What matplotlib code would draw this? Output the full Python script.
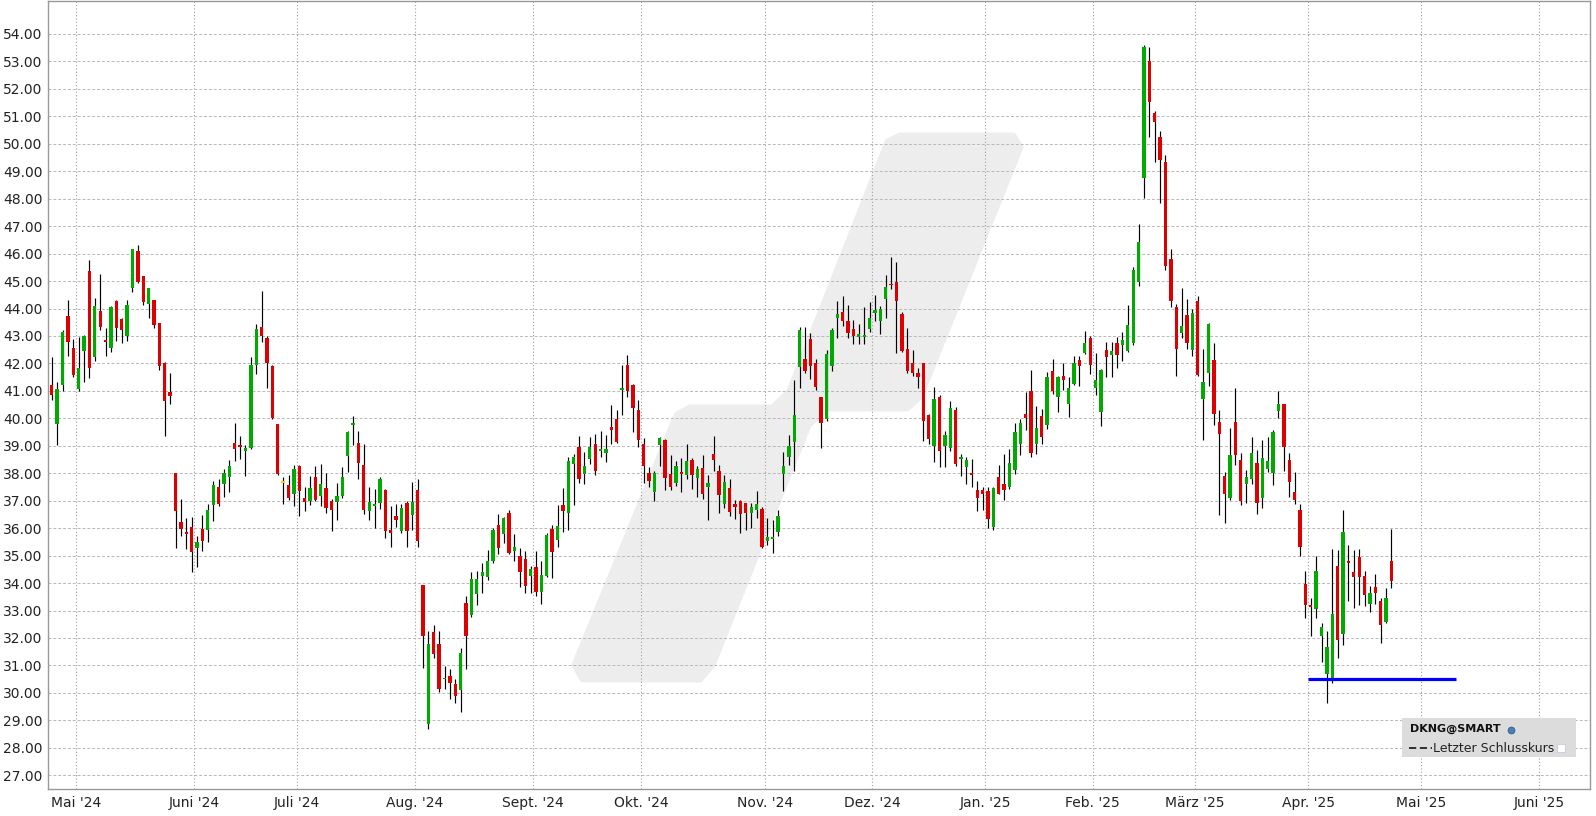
import numpy as np
import matplotlib.pyplot as plt
from matplotlib.patches import Polygon, Rectangle
from matplotlib.lines import Line2D

# DKNG daily candles, 24 Apr 2024 .. 23 Apr 2025 (trading days only)
opens = [
    41.20, 39.78, 41.20, 43.72, 42.57, 41.07, 42.47, 45.38, 42.22, 43.90,
    42.85, 42.57, 44.27, 43.63, 43.00, 44.76, 46.10, 45.18, 44.17, 44.30,
    43.47, 42.00, 40.96, 38.00, 36.22, 35.86, 36.03, 35.26, 35.98, 35.92,
    36.83, 37.49, 37.60, 37.85, 39.10, 39.02, 38.80, 38.93, 41.96, 43.32,
    42.92, 41.90, 39.78, 37.65, 37.57, 37.23, 38.27, 37.09, 37.00, 37.85,
    37.17, 37.45, 36.98, 36.94, 37.17, 38.63, 39.74, 39.10, 38.31, 36.62,
    36.79, 36.90, 37.38, 35.92, 36.43, 35.90, 36.90, 36.47, 37.38, 33.93,
    28.86, 32.23, 31.79, 30.49, 30.60, 30.33, 30.11, 33.29, 32.83, 33.59,
    34.27, 34.23, 34.80, 36.13, 35.77, 36.56, 35.18, 34.99, 34.86, 34.27,
    34.58, 33.69, 34.27, 35.98, 35.56, 36.85, 36.56, 38.32, 38.97, 37.98,
    38.51, 39.06, 38.82, 38.72, 39.67, 39.99, 41.03, 41.96, 41.20, 40.29,
    39.06, 38.00, 37.30, 39.02, 39.20, 37.98, 37.66, 38.06, 37.93, 38.49,
    37.83, 38.19, 37.49, 38.70, 38.08, 36.89, 37.45, 36.87, 36.98, 36.90,
    36.56, 36.66, 36.71, 35.52, 35.62, 35.86, 37.98, 38.61, 39.14, 41.86,
    42.15, 42.89, 42.03, 40.77, 39.97, 41.90, 43.64, 43.89, 43.53, 43.25,
    42.98, 42.96, 43.25, 43.85, 43.53, 44.33, 44.91, 44.95, 43.80, 42.51,
    42.03, 41.64, 42.03, 40.12, 39.01, 40.77, 38.99, 38.93, 40.29, 38.53,
    38.21, 38.02, 37.38, 37.38, 37.36, 36.05, 37.85, 37.60, 37.51, 38.12,
    39.08, 40.14, 40.99, 39.08, 40.07, 39.74, 41.71, 40.79, 41.54, 40.54,
    41.24, 42.11, 42.39, 42.92, 41.09, 40.22, 42.49, 42.30, 42.75, 42.68,
    42.47, 42.75, 44.97, 48.74, 53.00, 51.12, 50.23, 49.34, 45.80, 44.04,
    43.10, 43.76, 42.49, 44.27, 40.69, 41.66, 42.11, 39.88, 37.89, 37.09,
    39.88, 38.49, 37.60, 37.79, 38.36, 37.09, 38.17, 38.02, 40.26, 40.54,
    38.49, 37.32, 36.66, 33.97, 33.21, 33.06, 32.08, 30.69, 30.51, 34.61,
    32.15, 34.80, 34.42, 34.95, 34.25, 33.25, 33.86, 33.34, 32.59, 34.80,
]
highs = [
    42.23, 41.33, 43.20, 44.30, 42.90, 42.98, 43.03, 45.76, 44.40, 45.25,
    43.30, 44.08, 44.30, 43.66, 44.30, 46.16, 46.30, 45.20, 44.74, 44.30,
    43.47, 42.07, 41.64, 38.00, 37.07, 36.36, 36.41, 35.71, 36.47, 36.87,
    37.70, 37.80, 38.17, 38.48, 39.82, 39.35, 39.02, 42.22, 43.45, 44.65,
    43.00, 41.94, 39.78, 37.85, 37.93, 38.31, 38.31, 37.51, 37.91, 38.27,
    38.32, 38.00, 37.07, 37.66, 38.23, 39.54, 40.07, 39.54, 39.06, 37.49,
    37.42, 37.85, 37.42, 36.79, 36.89, 36.89, 37.00, 37.68, 37.79, 33.93,
    32.25, 32.46, 32.25, 30.98, 30.88, 30.50, 31.62, 33.53, 34.39, 34.44,
    34.73, 35.20, 36.00, 36.51, 36.41, 36.66, 35.77, 35.28, 35.18, 34.61,
    35.18, 34.80, 35.81, 36.13, 36.85, 37.45, 38.59, 38.70, 39.35, 38.78,
    39.31, 39.44, 39.54, 39.38, 40.48, 40.31, 41.96, 42.30, 41.24, 40.67,
    39.27, 38.23, 38.08, 39.31, 39.25, 38.68, 38.44, 38.55, 39.08, 38.55,
    38.27, 38.67, 37.95, 39.35, 38.29, 37.93, 37.79, 37.02, 37.02, 36.92,
    36.92, 37.34, 36.77, 36.37, 36.28, 36.66, 38.76, 39.40, 41.39, 43.32,
    43.32, 43.10, 42.15, 40.77, 42.49, 43.28, 44.27, 44.46, 44.12, 43.57,
    43.44, 44.04, 44.23, 44.48, 44.08, 45.22, 45.86, 45.71, 43.89, 43.28,
    42.49, 41.85, 42.03, 40.16, 41.15, 40.86, 39.54, 40.62, 40.41, 38.70,
    38.61, 38.51, 37.70, 37.51, 37.51, 37.49, 38.31, 38.70, 38.89, 39.82,
    39.99, 40.96, 41.75, 40.44, 40.35, 41.69, 42.15, 41.54, 42.00, 41.49,
    42.28, 42.26, 43.17, 43.00, 42.39, 41.81, 42.79, 42.79, 42.98, 43.13,
    44.14, 45.52, 47.07, 53.60, 53.51, 51.20, 50.48, 49.59, 46.16, 44.17,
    44.74, 44.36, 44.00, 44.46, 42.53, 43.49, 42.75, 40.31, 38.04, 39.65,
    41.09, 38.74, 38.13, 39.31, 38.84, 39.21, 39.31, 39.59, 41.01, 40.54,
    38.74, 38.04, 36.89, 34.44, 33.44, 34.99, 32.53, 32.27, 35.24, 35.20,
    36.66, 35.39, 35.20, 35.24, 34.44, 33.91, 34.33, 33.44, 33.82, 35.96,
]
lows = [
    40.67, 39.02, 41.00, 42.27, 41.50, 41.00, 41.33, 41.48, 42.10, 43.23,
    42.27, 42.40, 42.80, 42.75, 42.80, 44.60, 44.93, 44.14, 43.66, 43.28,
    41.77, 39.37, 40.54, 35.28, 35.71, 35.24, 34.39, 34.58, 35.18, 35.48,
    36.26, 36.80, 37.13, 37.32, 38.44, 38.51, 37.91, 38.89, 41.62, 42.79,
    41.10, 39.97, 37.95, 36.88, 37.04, 36.79, 36.43, 36.62, 36.85, 37.00,
    36.81, 36.54, 35.90, 36.28, 37.09, 38.04, 39.02, 37.79, 36.51, 36.28,
    36.00, 36.71, 35.65, 35.30, 36.03, 35.81, 35.30, 35.92, 35.33, 30.92,
    28.67, 31.26, 30.03, 30.13, 29.79, 29.65, 29.31, 30.88, 32.76, 33.19,
    33.63, 34.10, 34.73, 35.05, 35.47, 35.05, 34.80, 33.86, 33.63, 33.63,
    33.53, 33.25, 34.23, 34.20, 35.33, 35.86, 35.94, 36.85, 37.64, 37.60,
    38.32, 37.93, 38.59, 38.40, 39.06, 39.10, 40.12, 40.79, 39.50, 38.97,
    37.64, 37.51, 37.00, 38.27, 37.38, 37.38, 37.55, 37.32, 37.79, 37.42,
    37.13, 37.07, 36.28, 38.08, 36.56, 36.75, 36.43, 36.32, 35.81, 35.94,
    36.01, 36.37, 35.28, 35.39, 35.09, 35.71, 37.36, 38.29, 38.08, 41.09,
    41.66, 41.43, 41.05, 38.93, 39.91, 41.73, 42.94, 43.38, 42.94, 42.72,
    42.72, 42.72, 43.13, 43.53, 43.06, 43.66, 44.70, 42.39, 42.41, 41.66,
    41.54, 41.10, 39.18, 39.06, 38.40, 38.23, 38.23, 38.80, 38.25, 37.91,
    37.60, 37.51, 36.62, 36.66, 36.00, 35.94, 37.23, 37.04, 37.42, 37.96,
    38.65, 39.59, 38.61, 38.70, 39.08, 39.61, 40.88, 40.22, 41.05, 40.05,
    41.20, 41.16, 42.34, 41.62, 40.86, 39.73, 41.49, 41.49, 41.85, 42.09,
    42.43, 42.68, 44.82, 48.02, 50.25, 49.34, 47.83, 45.40, 44.04, 41.54,
    42.91, 42.53, 42.26, 41.54, 39.21, 41.18, 39.76, 36.47, 36.18, 37.04,
    38.31, 36.85, 36.90, 37.60, 36.53, 36.75, 38.04, 37.57, 40.01, 38.08,
    37.13, 36.89, 34.99, 32.72, 32.06, 32.74, 31.13, 29.62, 30.37, 31.26,
    31.74, 33.34, 33.10, 33.21, 33.16, 32.93, 33.25, 31.81, 32.55, 33.82,
]
closes = [
    40.86, 41.08, 43.15, 42.77, 41.58, 41.83, 43.00, 41.85, 44.08, 43.32,
    42.77, 44.04, 43.30, 43.23, 44.11, 46.16, 44.97, 44.25, 44.74, 43.40,
    41.92, 40.62, 40.82, 36.62, 35.98, 35.80, 35.14, 35.50, 35.52, 36.66,
    37.57, 36.89, 38.02, 38.25, 38.89, 38.97, 38.93, 41.96, 43.25, 43.00,
    42.02, 40.00, 37.98, 37.65, 37.09, 38.17, 37.34, 36.94, 37.45, 37.04,
    37.60, 36.73, 36.66, 37.17, 37.85, 39.50, 39.82, 38.38, 36.66, 36.94,
    36.87, 37.79, 35.90, 35.81, 36.30, 36.75, 35.90, 36.94, 35.52, 32.08,
    31.79, 31.40, 30.13, 30.56, 30.35, 29.88, 31.45, 32.08, 34.14, 34.14,
    34.39, 34.80, 35.94, 35.28, 36.36, 35.09, 35.33, 34.39, 33.91, 34.52,
    33.69, 34.29, 35.75, 35.14, 36.09, 36.62, 38.46, 38.59, 37.79, 38.27,
    38.97, 38.08, 38.89, 38.89, 39.57, 39.14, 41.09, 40.99, 40.39, 39.21,
    38.27, 37.70, 38.00, 39.29, 37.83, 37.51, 38.27, 37.98, 38.44, 37.95,
    38.15, 37.23, 37.64, 38.48, 37.19, 37.68, 36.60, 36.77, 36.51, 36.56,
    36.77, 36.89, 35.33, 35.67, 35.67, 36.43, 38.27, 39.00, 40.12, 43.23,
    41.71, 41.92, 41.15, 39.84, 42.34, 43.23, 43.80, 43.53, 43.10, 43.00,
    43.06, 43.02, 43.64, 43.93, 43.98, 44.78, 44.84, 44.29, 42.47, 41.71,
    41.66, 41.49, 39.91, 39.25, 40.71, 38.80, 39.38, 40.37, 38.32, 38.61,
    38.48, 37.95, 37.11, 37.23, 36.32, 37.45, 37.26, 37.38, 38.38, 39.52,
    39.82, 40.01, 38.74, 39.65, 39.31, 41.50, 40.99, 41.49, 41.39, 41.11,
    42.00, 41.92, 42.74, 41.96, 41.39, 41.75, 42.22, 42.45, 42.30, 42.85,
    43.40, 45.42, 46.43, 53.51, 51.52, 50.80, 49.42, 45.56, 44.29, 42.53,
    43.36, 42.75, 43.85, 41.58, 41.32, 43.42, 40.14, 39.44, 37.26, 38.65,
    38.65, 36.98, 37.85, 38.74, 36.90, 38.55, 38.46, 39.50, 40.54, 38.97,
    37.68, 37.04, 35.30, 33.21, 33.14, 34.44, 32.40, 31.68, 32.87, 31.92,
    35.86, 34.73, 34.23, 34.23, 33.57, 33.63, 33.63, 32.46, 33.44, 34.06,
]

# x axis: trading-day index, month boundaries from trading days per month
days_before_may = 5
month_days = [22, 19, 22, 22, 20, 23, 20, 21, 20, 19, 21, 21, 22]
month_labels = ["Mai '24", "Juni '24", "Juli '24", "Aug. '24", "Sept. '24",
                "Okt. '24", "Nov. '24", "Dez. '24", "Jan. '25", "Feb. '25",
                "März '25", "Apr. '25", "Mai '25", "Juni '25"]

support_level = 30.5
support_from = 233.5
support_to = 261.0

opens = np.array(opens)
highs = np.array(highs)
lows = np.array(lows)
closes = np.array(closes)
x = np.arange(len(opens))

W, H = 1596, 816
fig = plt.figure(figsize=(W / 100, H / 100), dpi=100)
ax = fig.add_axes([48 / W, 1 - 789 / H, (1590 - 48) / W, 788 / H])

# watermark logo (figure pixels)
logo = [(575, 665), (583, 679), (700, 679), (712, 665), (808, 425), (827, 408),
        (907, 408), (920, 396), (1020, 147), (1013, 136), (900, 136), (888, 142),
        (790, 391), (773, 408), (690, 408), (677, 415)]
logo = [(px / W, 1 - py / H) for px, py in logo]
ax.add_patch(Polygon(logo, closed=True, transform=fig.transFigure,
                     facecolor='#ededed', edgecolor='#ededed', lw=5,
                     joinstyle='round', zorder=0, clip_on=False))

# candles
colors = np.where(closes > opens, '#00aa00',
                  np.where(closes < opens, '#dd0000', '#f0d000'))
ax.vlines(x, lows, highs, color='black', lw=0.85, zorder=3)
body_low = np.minimum(opens, closes)
body_h = np.maximum(np.abs(closes - opens), 0.06)
ax.bar(x, body_h, bottom=body_low, width=0.62, color=colors, zorder=4,
       linewidth=0)

ax.hlines(support_level, support_from, support_to, color='#0000ff', lw=2.3,
          zorder=5)

# axes
month_pos = days_before_may - 0.5 + np.concatenate([[0], np.cumsum(month_days)])
ax.set_xlim(-0.7, 285.9)
ax.set_ylim(26.5, 55.2)
ax.set_yticks(np.arange(27, 55))
ax.set_yticklabels(['%.2f' % v for v in np.arange(27, 55)])
ax.set_xticks(month_pos)
ax.set_xticklabels(month_labels)
ax.tick_params(length=0, labelsize=10, colors='#222222')
ax.tick_params(axis='y', pad=4)
ax.tick_params(axis='x', pad=5)
ax.yaxis.grid(True, linestyle=(0, (3, 2)), color='#b8b8b8', lw=0.7, zorder=1)
ax.xaxis.grid(True, linestyle=(0, (1, 2)), color='#a0a0a0', lw=0.8, zorder=1)
ax.set_axisbelow(True)
for s in ax.spines.values():
    s.set_color('#999999')
    s.set_linewidth(1.0)
ax.patch.set_alpha(0)

# legend box
fig.patches.append(Rectangle((1402 / W, 1 - 757 / H), 174 / W, 39 / H,
                             transform=fig.transFigure, facecolor='#dcdcdc',
                             edgecolor='none', zorder=10))
fig.text(1410 / W, 1 - 729 / H, 'DKNG@SMART', fontsize=8, fontweight='bold',
         va='center', ha='left', color='#111111', zorder=11)
fig.lines.append(Line2D([1511 / W], [1 - 730 / H], transform=fig.transFigure,
                        marker='o', markersize=5, markerfacecolor='#4a7fb5',
                        markeredgecolor='#2c5580', markeredgewidth=0.5,
                        linestyle='none', zorder=11))
fig.lines.append(Line2D([1409 / W, 1432 / W], [1 - 748 / H, 1 - 748 / H],
                        transform=fig.transFigure, color='#222222', lw=1.3,
                        linestyle=(0, (4, 2)), zorder=11))
fig.text(1433 / W, 1 - 748 / H, 'Letzter Schlusskurs', fontsize=9,
         va='center', ha='left', color='#222222', zorder=11)
fig.patches.append(Rectangle((1557 / W, 1 - 752 / H), 8 / W, 8 / H,
                             transform=fig.transFigure, facecolor='white',
                             edgecolor='#c8c8e0', lw=0.6, zorder=11))

fig.savefig('out.png', dpi=100)
